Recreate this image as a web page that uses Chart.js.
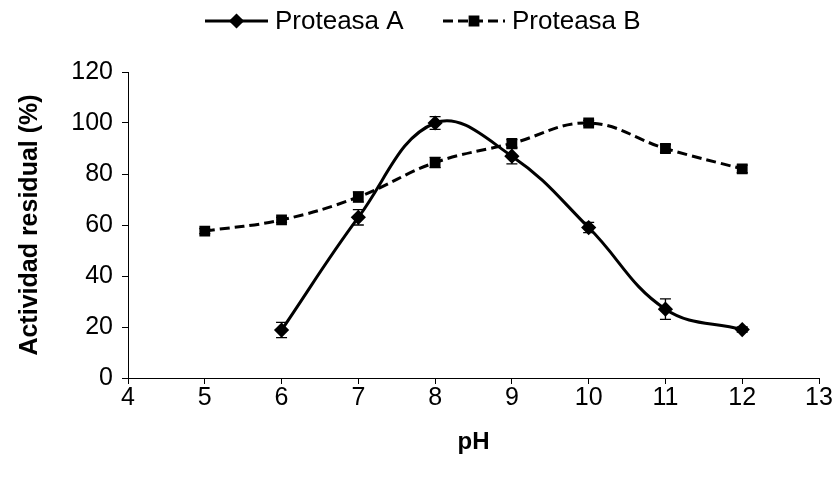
<!DOCTYPE html>
<html>
<head>
<meta charset="utf-8">
<script src="https://cdn.jsdelivr.net/npm/chart.js@4"></script>
<style>
  body { margin: 0; background: #fff; }
  #wrap { width: 835px; height: 484px; }
</style>
</head>
<body>
<div id="wrap"><canvas id="viz"></canvas></div>
<script>
// pH values and residual activity (%) with standard deviations
const phA = [6, 7, 8, 9, 10, 11, 12];
const proteasaA = [18.8, 63, 100, 87, 59, 27, 19];
const errA = [3, 3, 2.5, 3, 2, 4, 1];

const phB = [5, 6, 7, 8, 9, 10, 11, 12];
const proteasaB = [57.6, 62, 71, 84.5, 92, 100, 90, 82];
const errB = [1, 1, 2, 2, 1.5, 1, 1.5, 1.5];

const xTicks = [4, 5, 6, 7, 8, 9, 10, 11, 12, 13];
const yTicks = [0, 20, 40, 60, 80, 100, 120];

const FONT = 'Liberation Sans, Arial, sans-serif';

// vertical error bars with caps
const errorBars = {
  id: 'errorBars',
  afterDatasetsDraw(chart) {
    const ctx = chart.ctx;
    const y = chart.scales.y;
    chart.data.datasets.forEach((ds, i) => {
      const meta = chart.getDatasetMeta(i);
      ctx.save();
      ctx.strokeStyle = '#000';
      ctx.lineWidth = 1.3;
      meta.data.forEach((pt, j) => {
        const e = ds.errors[j];
        const v = ds.data[j].y;
        const top = y.getPixelForValue(v + e);
        const bot = y.getPixelForValue(v - e);
        ctx.beginPath();
        ctx.moveTo(pt.x, top); ctx.lineTo(pt.x, bot);
        ctx.moveTo(pt.x - 5.5, top); ctx.lineTo(pt.x + 5.5, top);
        ctx.moveTo(pt.x - 5.5, bot); ctx.lineTo(pt.x + 5.5, bot);
        ctx.stroke();
      });
      ctx.restore();
    });
  }
};

// legend: line sample with marker, then the series name
const lineLegend = {
  id: 'lineLegend',
  afterDraw(chart) {
    const ctx = chart.ctx;
    const items = [
      { ds: chart.data.datasets[0], x0: 205, x1: 268, tx: 275 },
      { ds: chart.data.datasets[1], x0: 443, x1: 505, tx: 512 }
    ];
    const ly = 21;
    ctx.save();
    items.forEach(it => {
      ctx.strokeStyle = '#000';
      ctx.lineWidth = 3;
      ctx.setLineDash(it.ds.borderDash || []);
      ctx.beginPath();
      ctx.moveTo(it.x0, ly); ctx.lineTo(it.x1, ly);
      ctx.stroke();
      ctx.setLineDash([]);
      Chart.helpers.drawPoint(ctx, {
        pointStyle: it.ds.pointStyle,
        radius: it.ds.pointRadius,
        borderWidth: 1
      }, (it.x0 + it.x1) / 2, ly);
      ctx.fillStyle = '#000';
      ctx.font = '26px ' + FONT;
      ctx.textBaseline = 'middle';
      ctx.textAlign = 'left';
      ctx.fillText(it.ds.label, it.tx, ly + 1);
    });
    ctx.restore();
  }
};

const ctx = document.getElementById('viz');

new Chart(ctx, {
  type: 'line',
  data: {
    datasets: [
      {
        label: 'Proteasa A',
        data: phA.map((x, i) => ({ x: x, y: proteasaA[i] })),
        errors: errA,
        borderColor: '#000',
        backgroundColor: '#000',
        borderWidth: 3,
        tension: 0.4,
        pointStyle: 'rectRot',
        pointRadius: 5.5,
        pointBackgroundColor: '#000',
        pointBorderColor: '#000'
      },
      {
        label: 'Proteasa B',
        data: phB.map((x, i) => ({ x: x, y: proteasaB[i] })),
        errors: errB,
        borderColor: '#000',
        backgroundColor: '#000',
        borderWidth: 3,
        borderDash: [10, 5],
        tension: 0.4,
        pointStyle: 'rect',
        pointRadius: 5.5,
        pointBackgroundColor: '#000',
        pointBorderColor: '#000'
      }
    ]
  },
  options: {
    responsive: true,
    maintainAspectRatio: false,
    animation: false,
    layout: { padding: { top: 72, right: 16, left: 0, bottom: 0 } },
    plugins: {
      legend: { display: false },
      tooltip: { enabled: false }
    },
    scales: {
      x: {
        type: 'linear',
        min: 4,
        max: 13,
        afterBuildTicks: s => { s.ticks = xTicks.map(v => ({ value: v })); },
        afterFit: s => { s.height = 106; },
        grid: { drawOnChartArea: false, drawTicks: true, tickLength: 6, color: '#000' },
        border: { color: '#000', width: 1 },
        ticks: { color: '#000', font: { family: FONT, size: 25 }, padding: -1, maxRotation: 0 },
        title: { display: true, text: 'pH', color: '#000', font: { family: FONT, size: 24, weight: 'bold' }, padding: { top: 0, bottom: 27 } }
      },
      y: {
        min: 0,
        max: 120,
        afterBuildTicks: s => { s.ticks = yTicks.map(v => ({ value: v })); },
        afterFit: s => { s.width = 128; },
        grid: { drawOnChartArea: false, drawTicks: true, tickLength: 6, color: '#000' },
        border: { color: '#000', width: 1 },
        ticks: { color: '#000', font: { family: FONT, size: 25 }, padding: 9 },
        title: { display: true, text: 'Actividad residual (%)', color: '#000', font: { family: FONT, size: 25, weight: 'bold' }, padding: { top: 15, bottom: 0 } }
      }
    }
  },
  plugins: [errorBars, lineLegend]
});
</script>
</body>
</html>
